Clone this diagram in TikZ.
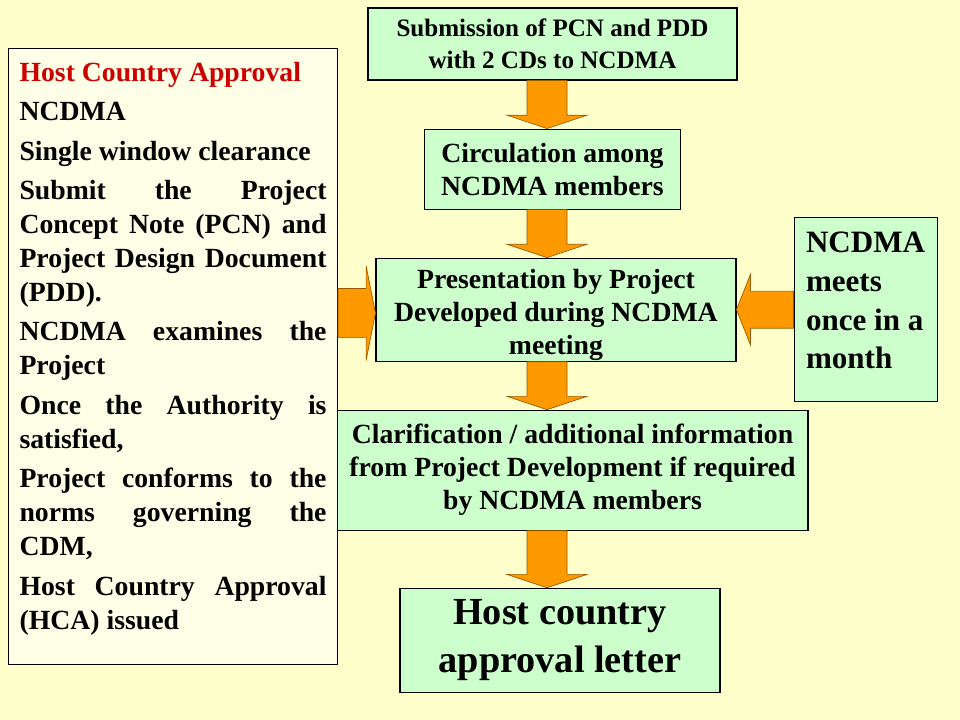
\documentclass[tikz,border=0pt]{standalone}
\usepackage{fontspec}
\setmainfont{Liberation Serif}
\usetikzlibrary{calc, positioning}
\definecolor{fondo}{RGB}{255,255,204}
\definecolor{verdeCaja}{RGB}{204,255,204}
\definecolor{cremaCaja}{RGB}{255,255,232}
\definecolor{naranja}{RGB}{255,153,0}
\definecolor{bordeNaranja}{RGB}{150,90,0}
\definecolor{rojoTitulo}{RGB}{204,0,0}

\begin{document}
\begin{tikzpicture}
	[
	x=0.75pt, y=-0.75pt,
        paso/.style={
            rectangle,
            draw=black,
            line width=0.8pt,
            fill=verdeCaja,
            align=center,
            inner sep=0pt,
            font=\bfseries\fontsize{20.8}{24.75}\selectfont
        },
        nota/.style={
            rectangle,
            draw=black,
            line width=0.8pt,
            fill=cremaCaja,
            inner xsep=8.25pt,
            inner ysep=4pt,
            font=\bfseries\fontsize{20.8}{25.5}\selectfont
        },
        flecha/.style={
            fill=naranja,
            draw=bordeNaranja,
            line width=0.5pt
        },
        flechaAbajo/.style={
            flecha,
            to path={let \p1=(\tikztostart), \p2=(\tikztotarget) in
              (\x1-15pt,\y1) -- (\x1+15pt,\y1) -- (\x1+15pt,\y2+10pt) -- (\x1+30pt,\y2+10pt)
              -- (\x1,\y2) -- (\x1-30pt,\y2+10pt) -- (\x1-15pt,\y2+10pt) -- cycle}
        },
        flechaDerecha/.style={
            flecha,
            to path={let \p1=(\tikztostart), \p2=(\tikztotarget) in
              (\x1,\y2+18.4pt) -- (\x2-7pt,\y2+18.4pt) -- (\x2-7pt,\y2+35.6pt) -- (\x2,\y2)
              -- (\x2-7pt,\y2-35.6pt) -- (\x2-7pt,\y2-18.4pt) -- (\x1,\y2-18.4pt) -- cycle}
        },
        flechaIzquierda/.style={
            flecha,
            to path={let \p1=(\tikztostart), \p2=(\tikztotarget) in
              (\x1,\y2+13.9pt) -- (\x2+10.5pt,\y2+13.9pt) -- (\x2+10.5pt,\y2+26.6pt) -- (\x2,\y2)
              -- (\x2+10.5pt,\y2-26.6pt) -- (\x2+10.5pt,\y2-13.9pt) -- (\x1,\y2-13.9pt) -- cycle}
        }
    ]
    \path[use as bounding box, fill=fondo] (0,0) rectangle (960,720);

    \node(submission) [paso, minimum width=276.75pt, minimum height=54pt,
        font=\bfseries\fontsize{18.8}{24}\selectfont] at (552.5,44) {Submission of PCN and PDD\\with 2 CDs to NCDMA};
    \node(circulation) [paso, minimum width=192pt, minimum height=60pt, below=36pt of submission] {Circulation among\\NCDMA members};
    \node(presentation) [paso, minimum width=270pt, minimum height=77.25pt, below=36pt of circulation, xshift=2.6pt] {\rule{0pt}{22.5pt}Presentation by Project\\Developed during NCDMA\\meeting};
    \node(clarification) [paso, minimum width=353.25pt, minimum height=90pt, below=36pt of presentation, xshift=12.4pt] {Clarification / additional information\\from Project Development if required\\by NCDMA members};
    \node(letter) [paso, minimum width=240pt, minimum height=78pt, below=42.75pt of clarification, xshift=-9.4pt,
        font=\bfseries\fontsize{28.7}{36}\selectfont] {Host country\\approval letter};
    \node(meeting) [paso, minimum width=107.25pt, minimum height=138pt, right=42.75pt of presentation, align=left,
        font=\bfseries\fontsize{23.3}{29}\selectfont] {NCDMA\\meets\\once in a\\month\rule[-13.5pt]{0pt}{13.5pt}};

    \node(hostApproval) [nota, anchor=north west] at (8,48) {%
      \begin{minipage}[t][454pt][t]{230.25pt}
        \vspace*{6pt}
        \setlength{\parskip}{4.1pt}\tolerance=10000\hyphenpenalty=10000
        {\color{rojoTitulo}Host Country Approval}\par
        NCDMA\par
        Single window clearance\par
        Submit the Project\linebreak Concept Note (PCN) and\linebreak Project Design Document\linebreak (PDD).\par
        NCDMA examines the\linebreak Project\par
        Once the Authority is\linebreak satisfied,\par
        Project conforms to the\linebreak norms governing the\linebreak CDM,\par
        Host Country Approval\linebreak (HCA) issued
      \end{minipage}};

    \coordinate(eje) at (547,0);
    \coordinate(puntaIzq) at ([yshift=-2.6pt]presentation.west);

    \draw[flechaAbajo] (eje |- submission.south) to (eje |- circulation.north);
    \draw[flechaAbajo] (eje |- circulation.south) to (eje |- presentation.north);
    \draw[flechaAbajo] (eje |- presentation.south) to (eje |- clarification.north);
    \draw[flechaAbajo] (eje |- clarification.south) to (eje |- letter.north);
    \draw[flechaDerecha] (puntaIzq -| hostApproval.east) to (puntaIzq);
    \draw[flechaIzquierda] (meeting.west) to (presentation.east |- meeting.west);
\end{tikzpicture}
\end{document}
